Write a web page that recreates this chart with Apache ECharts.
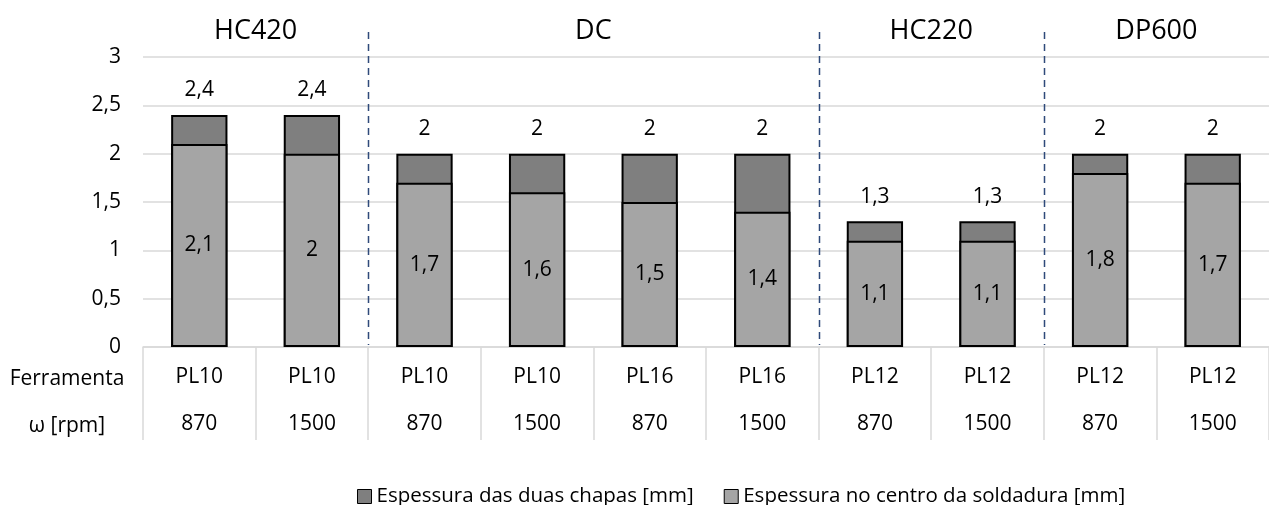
<!DOCTYPE html>
<html>
<head>
<meta charset="utf-8">
<script src="https://cdn.jsdelivr.net/npm/echarts@6/dist/echarts.min.js"></script>
<style>
  html, body { margin: 0; padding: 0; background: #ffffff; }
  #chart { width: 1269px; height: 505px; }
</style>
</head>
<body>
<div id="chart"></div>
<script>
// Tool and rotation speed per test (table under the bars)
const tools = ['PL10', 'PL10', 'PL10', 'PL10', 'PL16', 'PL16', 'PL12', 'PL12', 'PL12', 'PL12'];
const speeds = ['870', '1500', '870', '1500', '870', '1500', '870', '1500', '870', '1500'];

// Thickness values [mm]
const totalThickness = [2.4, 2.4, 2, 2, 2, 2, 1.3, 1.3, 2, 2];
const centreThickness = [2.1, 2, 1.7, 1.6, 1.5, 1.4, 1.1, 1.1, 1.8, 1.7];

// Material groups: name, first category index, number of categories
const groupNames = ['HC420', 'DC', 'HC220', 'DP600'];
const groupStart = [0, 2, 6, 8];
const groupSize = [2, 4, 2, 2];

// Y axis scale
const yMin = 0, yMax = 3, yStep = 0.5;

const seriesNames = ['Espessura das duas chapas [mm]', 'Espessura no centro da soldadura [mm]'];
const rowLabels = ['Ferramenta', 'ω [rpm]'];

const FONT = 'Open Sans';
const comma = v => String(v).replace('.', ',');
const gridColor = '#d9d9d9';

const chart = echarts.init(document.getElementById('chart'), null, { renderer: 'canvas' });

const option = {
  animation: false,
  backgroundColor: '#ffffff',
  textStyle: { fontFamily: FONT },
  grid: { left: 143, right: -13, top: 57, bottom: 158, containLabel: false },
  legend: {
    data: seriesNames,
    left: 352,
    top: 481,
    itemWidth: 14,
    itemHeight: 14,
    itemGap: 30,
    itemStyle: { borderColor: '#000000', borderWidth: 1 },
    icon: 'rect',
    textStyle: { fontFamily: FONT, fontSize: 20.5, color: '#000000' }
  },
  xAxis: [
    {
      type: 'category',
      data: tools,
      position: 'bottom',
      axisLine: { show: true, lineStyle: { color: gridColor, width: 1.5 } },
      axisTick: { show: true, interval: 0, length: 93, lineStyle: { color: gridColor, width: 1.5 } },
      axisLabel: { interval: 0, margin: 20, color: '#000000', fontFamily: FONT, fontSize: 21 },
      splitLine: { show: false }
    },
    {
      type: 'category',
      data: speeds,
      position: 'bottom',
      axisLine: { show: false },
      axisTick: { show: false },
      axisLabel: { interval: 0, margin: 67, color: '#000000', fontFamily: FONT, fontSize: 21 },
      splitLine: { show: false }
    }
  ],
  yAxis: {
    type: 'value',
    min: yMin,
    max: yMax,
    interval: yStep,
    axisLine: { show: false },
    axisTick: { show: false },
    axisLabel: { margin: 22, color: '#000000', fontFamily: FONT, fontSize: 21, formatter: comma },
    splitLine: { show: true, lineStyle: { color: gridColor, width: 1.5 } }
  },
  series: [
    {
      name: seriesNames[0],
      type: 'bar',
      xAxisIndex: 0,
      data: totalThickness,
      barWidth: '50%',
      barGap: '-100%',
      itemStyle: { color: '#7f7f7f', borderColor: '#000000', borderWidth: 2 },
      label: {
        show: true,
        position: 'top',
        distance: 14,
        color: '#000000',
        fontFamily: FONT,
        fontSize: 21,
        formatter: p => comma(p.value)
      }
    },
    {
      name: seriesNames[1],
      type: 'bar',
      xAxisIndex: 0,
      data: centreThickness,
      barWidth: '50%',
      itemStyle: { color: '#a5a5a5', borderColor: '#000000', borderWidth: 2 },
      label: {
        show: true,
        position: 'inside',
        color: '#000000',
        fontFamily: FONT,
        fontSize: 21,
        formatter: p => comma(p.value)
      }
    }
  ]
};

chart.setOption(option);

// Group headings and dashed separators placed with the category axis scale
function buildOverlay() {
  const cx = i => chart.convertToPixel({ xAxisIndex: 0 }, i);
  const step = cx(1) - cx(0);
  const graphics = [];
  groupNames.forEach((name, g) => {
    const first = groupStart[g];
    const last = first + groupSize[g] - 1;
    const mid = (cx(first) + cx(last)) / 2;
    graphics.push({
      type: 'text',
      x: mid,
      y: 31,
      style: {
        text: name,
        fontFamily: FONT,
        fontSize: 27,
        fill: '#000000',
        textAlign: 'center',
        textVerticalAlign: 'middle'
      }
    });
    if (g > 0) {
      const bx = Math.round(cx(first) - step / 2) + 0.5;
      graphics.push({
        type: 'line',
        shape: { x1: bx, y1: 32, x2: bx, y2: 345 },
        style: { stroke: '#2f4a7a', lineWidth: 1.5, lineDash: [7, 5] }
      });
    }
  });
  rowLabels.forEach((t, r) => {
    graphics.push({
      type: 'text',
      x: 67,
      y: r === 0 ? 379 : 426,
      style: {
        text: t,
        fontFamily: FONT,
        fontSize: 21,
        fill: '#000000',
        textAlign: 'center',
        textVerticalAlign: 'middle'
      }
    });
  });
  chart.setOption({ graphic: graphics });
}
buildOverlay();
</script>
</body>
</html>
